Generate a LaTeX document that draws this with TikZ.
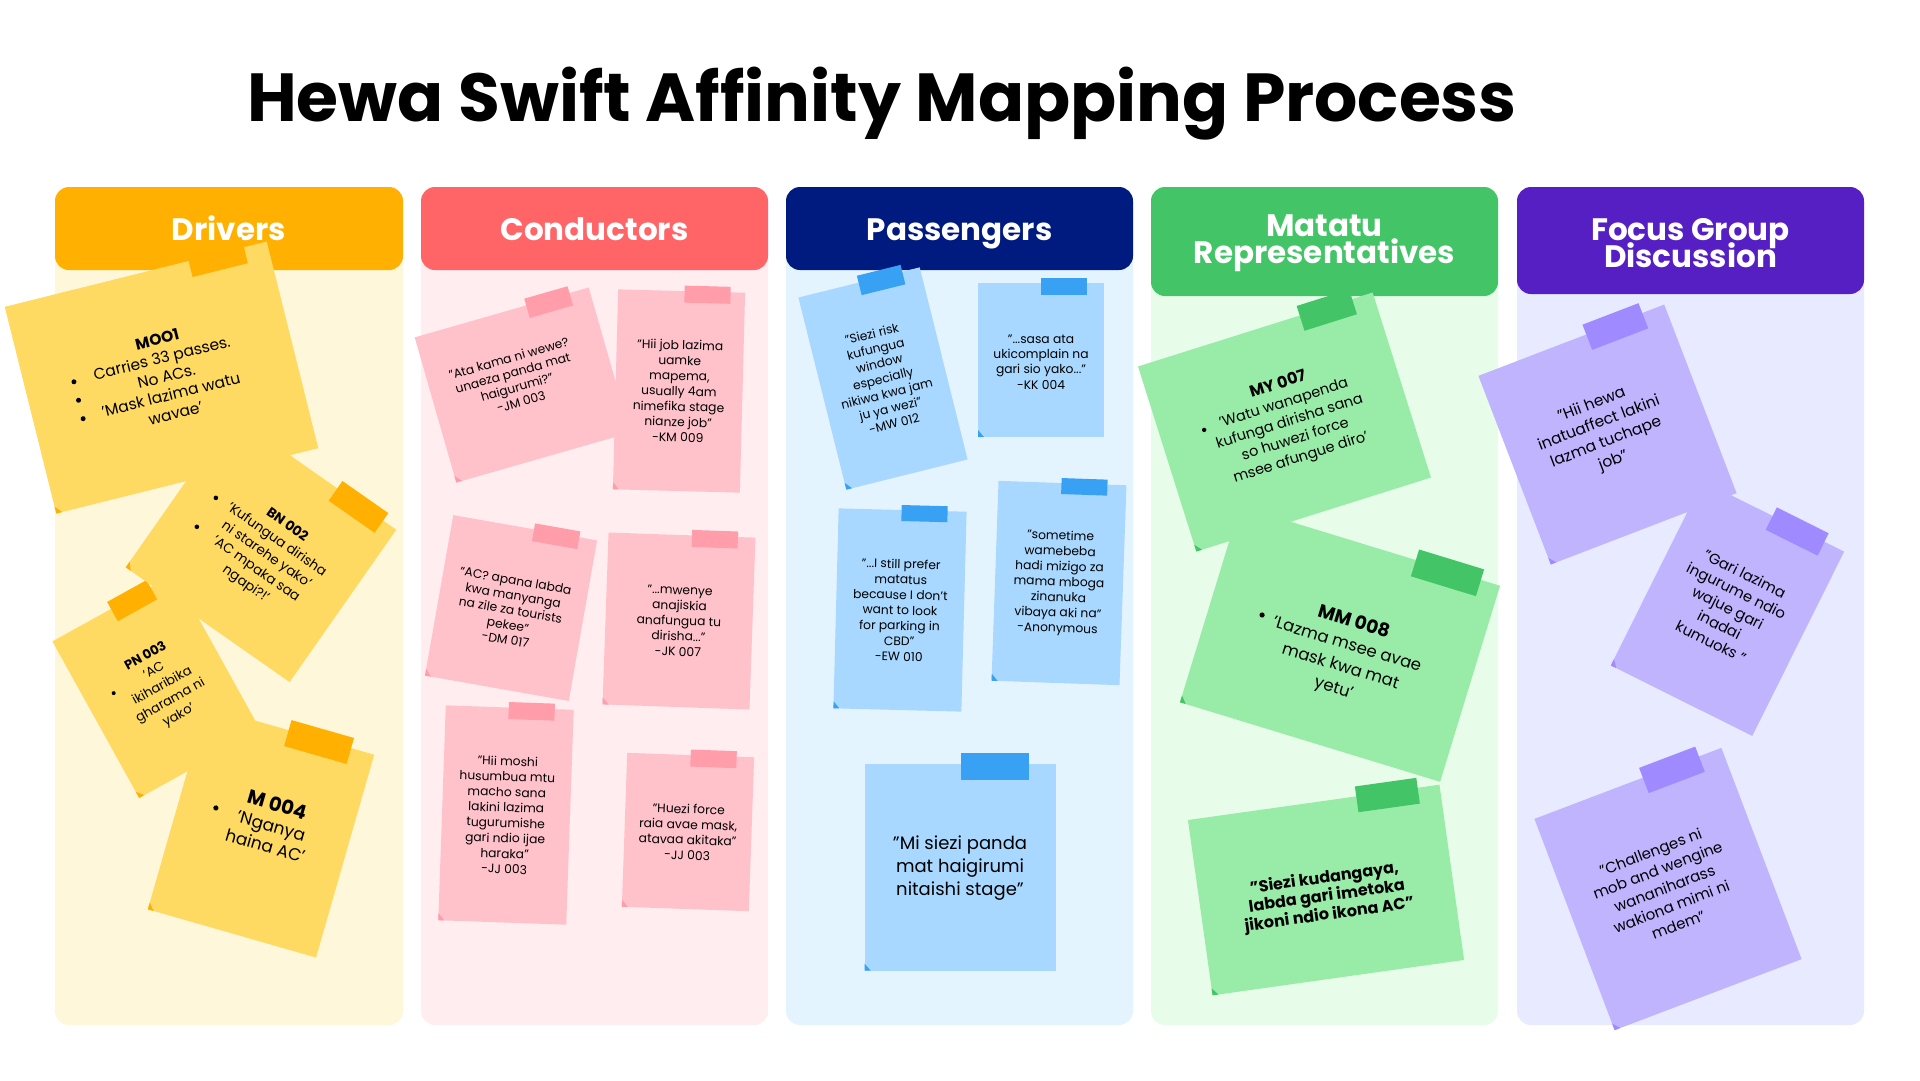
\documentclass[tikz,border=0pt]{standalone}
\usepackage{fontspec}
\setmainfont{Poppins}
\definecolor{drvH}{HTML}{FFB000}\definecolor{drvB}{HTML}{FFF7DA}
\definecolor{drvN}{HTML}{FFDA63}\definecolor{drvT}{HTML}{FFB000}
\definecolor{conH}{HTML}{FF6467}\definecolor{conB}{HTML}{FFEDEF}
\definecolor{conN}{HTML}{FFC2CB}\definecolor{conT}{HTML}{FF9DAA}
\definecolor{pasH}{HTML}{001B80}\definecolor{pasB}{HTML}{E4F4FF}
\definecolor{pasN}{HTML}{A8D8FF}\definecolor{pasT}{HTML}{38A1F3}
\definecolor{matH}{HTML}{43C467}\definecolor{matB}{HTML}{E7FCE9}
\definecolor{matN}{HTML}{98ECA8}\definecolor{matT}{HTML}{43C467}
\definecolor{focH}{HTML}{561FC4}\definecolor{focB}{HTML}{E8EAFF}
\definecolor{focN}{HTML}{C0B4FF}\definecolor{focT}{HTML}{9F8BFF}
% #1 width, #2 height, #3 note colour, #4 tape colour, #5 tape x, #6 tape w, #7 tape h
\newcommand\stickynote[7]{%
  \fill[#3] (-#1/2,-#2/2) rectangle (#1/2,#2/2);
  \fill[#4] (-#1/2,#2/2-7) -- (-#1/2+6,#2/2) -- (-#1/2,#2/2) -- cycle;
  \fill[#4] (#5-#6/2,-#2/2-#7/2+3) rectangle (#5+#6/2,-#2/2+#7/2+3);
}
\newcommand\fs[2]{\fontsize{#1}{#2}\selectfont\lineskiplimit=-60pt\lineskip=0pt\relax}
\begin{document}
\begin{tikzpicture}[x=1pt,y=-1pt,
  notepose/.style={every node/.append style={transform shape}},
  notetext/.style={align=center,inner sep=0pt,text=black},
  headtext/.style={align=center,inner sep=0pt,text=white,font=\bfseries\fs{31}{27}},
  dot/.style={fill=black}]
\useasboundingbox (0,0) rectangle (1920,1080);
\fill[white] (0,0) rectangle (1920,1080);
% title
\node[anchor=base,inner sep=0pt,font=\bfseries\fs{68}{72}] (title) at (882,121) {Hewa Swift Affinity Mapping Process};
% columns
\fill[drvB,rounded corners=14] (55,187) rectangle (403,1025);
\fill[conB,rounded corners=14] (421,187) rectangle (768,1025);
\fill[pasB,rounded corners=14] (786,187) rectangle (1133,1025);
\fill[matB,rounded corners=14] (1151,187) rectangle (1498,1025);
\fill[focB,rounded corners=14] (1517,187) rectangle (1864,1025);
\fill[drvH,rounded corners=14] (55,187) rectangle (403,270);
\fill[conH,rounded corners=14] (421,187) rectangle (768,270);
\fill[pasH,rounded corners=14] (786,187) rectangle (1133,270);
\fill[matH,rounded corners=14] (1151,187) rectangle (1498,296);
\fill[focH,rounded corners=14] (1517,187) rectangle (1864,294);
\node[headtext,anchor=base] (hdrv) at (229,240) {Drivers};
\node[headtext,anchor=base] (hcon) at (594.5,240) {Conductors};
\node[headtext,anchor=base] (hpas) at (959.5,240) {Passengers};
\node[headtext] (hmat) at (1324.5,243) {Matatu\\Representatives};
\node[headtext] (hfoc) at (1690.5,243) {Focus Group\\Discussion};
% ---------------- Drivers
\begin{scope}[shift={(156.6,686)},rotate=29,notepose]
  \stickynote{139}{179}{drvN}{drvT}{20}{45}{22}
  \node[notetext,font=\fs{13}{17}] (pn003) at (5,3) {\textbf{PN 003}\\'AC\\ikiharibika\\gharama ni\\yako'};
  \fill[dot] (-41,-14.6) circle (2);
\end{scope}
\begin{scope}[shift={(261,832)},rotate=-16,notepose]
  \stickynote{175}{211}{drvN}{drvT}{31}{65}{27}
  \node[notetext,font=\fs{17}{21}] (m004) at (8,-10) {{\bfseries\fs{19.5}{21}M 004}\\'Nganya\\haina AC'};
  \fill[dot] (-50,-10.7) circle (2.6);
\end{scope}
\begin{scope}[shift={(261,548.5)},rotate=-35,notepose]
  \stickynote{200}{186}{drvN}{drvT}{56}{56}{24}
  \node[notetext,font=\fs{13.5}{18}] (bn002) at (8,2.5) {\textbf{BN 002}\\'Kufungua dirisha\\ni starehe yako'\\'AC mpaka saa\\ngapi?!'};
  \fill[dot] (-66,-15.6) circle (2.3);
  \fill[dot] (-65,19) circle (2.3);
\end{scope}
\begin{scope}[shift={(161.5,377.5)},rotate=14,notepose]
  \stickynote{270}{213}{drvN}{drvT}{83}{57}{27}
  \node[notetext,font=\fs{15.5}{19}] (moo1) at (5,0) {\textbf{MOO1}\\Carries 33 passes.\\No ACs.\\'Mask lazima watu\\wavae'};
  \fill[dot] (-86,-17) circle (2.5);
  \fill[dot] (-86,2) circle (2.5);
  \fill[dot] (-86,21) circle (2.5);
\end{scope}
% ---------------- Conductors
\begin{scope}[shift={(522.5,385)},rotate=16,notepose]
  \stickynote{181}{151}{conN}{conT}{48}{45}{20}
  \node[notetext,font=\fs{12.3}{15}] (jm003) at (-6,-7) {"Ata kama ni wewe?\\unaeza panda mat\\haigurumi?"\\-JM 003};
\end{scope}
\begin{scope}[shift={(679,391)},rotate=-1.5,notepose]
  \stickynote{127}{200}{conN}{conT}{26}{46}{17}
  \node[notetext,font=\fs{12.3}{15.4}] (km009) at (0,0) {"Hii job lazima\\uamke\\mapema,\\usually 4am\\nimefika stage\\nianze job"\\-KM 009};
\end{scope}
\begin{scope}[shift={(511,608)},rotate=-10,notepose]
  \stickynote{146}{163}{conN}{conT}{32}{46}{18}
  \node[notetext,font=\fs{12.3}{15}] (dm017) at (0,2) {"AC? apana labda\\kwa manyanga\\na zile za tourists\\pekee"\\-DM 017};
\end{scope}
\begin{scope}[shift={(679,621)},rotate=-2,notepose]
  \stickynote{147}{172}{conN}{conT}{33}{46}{17}
  \node[notetext,font=\fs{12.3}{15.4}] (jk007) at (0,0) {"...mwenye\\anajiskia\\anafungua tu\\dirisha..."\\-JK 007};
\end{scope}
\begin{scope}[shift={(506,815)},rotate=-2,notepose]
  \stickynote{128}{215}{conN}{conT}{22}{46}{17}
  \node[notetext,font=\fs{12.3}{15.4}] (jj003a) at (0,0) {"Hii moshi\\husumbua mtu\\macho sana\\lakini lazima\\tugurumishe\\gari ndio ijae\\haraka"\\-JJ 003};
\end{scope}
\begin{scope}[shift={(688,832)},rotate=-2,notepose]
  \stickynote{127}{154}{conN}{conT}{23}{46}{17}
  \node[notetext,font=\fs{12.3}{15.4}] (jj003b) at (0,0) {"Huezi force\\raia avae mask,\\atavaa akitaka"\\-JJ 003};
\end{scope}
% ---------------- Passengers
\begin{scope}[shift={(883,378.5)},rotate=14,notepose]
  \stickynote{125}{198}{pasN}{pasT}{22}{45}{20}
  \node[notetext,font=\fs{12.3}{15.4}] (mw012) at (0,0) {"Siezi risk\\kufungua\\window\\especially\\nikiwa kwa jam\\ju ya wezi"\\-MW 012};
\end{scope}
\begin{scope}[shift={(1041,360)},notepose]
  \stickynote{126}{154}{pasN}{pasT}{23}{46}{17}
  \node[notetext,font=\fs{12.3}{15.4}] (kk004) at (0,2) {"...sasa ata\\ukicomplain na\\gari sio yako..."\\-KK 004};
\end{scope}
\begin{scope}[shift={(900,610)},rotate=-1.5,notepose]
  \stickynote{128}{200}{pasN}{pasT}{22}{46}{16}
  \node[notetext,font=\fs{12.3}{15.4}] (ew010) at (0,0) {"...I still prefer\\matatus\\because I don't\\want to look\\for parking in\\CBD"\\-EW 010};
\end{scope}
\begin{scope}[shift={(1059,583)},rotate=-2,notepose]
  \stickynote{128}{200}{pasN}{pasT}{22}{46}{16}
  \node[notetext,font=\fs{12.3}{15.4}] (anon) at (0,0) {"sometime\\wamebeba\\hadi mizigo za\\mama mboga\\zinanuka\\vibaya aki na"\\-Anonymous};
\end{scope}
\begin{scope}[shift={(960,867)},notepose]
  \stickynote{191}{207}{pasN}{pasT}{35}{68}{27}
  \node[notetext,font=\fs{18}{23}] (misiezi) at (0,1) {"Mi siezi panda\\mat haigirumi\\nitaishi stage"};
\end{scope}
% ---------------- Matatu representatives
\begin{scope}[shift={(1340,644)},rotate=-17,notepose]
  \stickynote{272}{205}{matN}{matT}{82}{68}{28}
  \node[notetext,font=\fs{16.5}{22.7}] (mm008) at (7,10) {{\bfseries\fs{18.5}{22.7}MM 008}\\'Lazma msee avae\\mask kwa mat\\yetu'};
  \fill[dot] (-83,-5) circle (2.6);
\end{scope}
\begin{scope}[shift={(1284.5,422)},rotate=17.5,notepose]
  \stickynote{246}{194}{matN}{matT}{74}{55}{26}
  \node[notetext,font=\fs{14.5}{19}] (my007) at (5,1) {{\bfseries\fs{16}{19}MY 007}\\'Watu wanapenda\\kufunga dirisha sana\\so huwezi force\\msee afungue diro'};
  \fill[dot] (-79,-16.6) circle (2.2);
\end{scope}
\begin{scope}[shift={(1326,890)},rotate=8,notepose]
  \stickynote{254}{177}{matN}{matT}{74}{62}{26}
  \node[notetext,font=\bfseries\fs{16}{18.5}] (siezi) at (0,7) {"Siezi kudangaya,\\labda gari imetoka\\jikoni ndio ikona AC"};
\end{scope}
% ---------------- Focus group discussion
\begin{scope}[shift={(1727.5,608.5)},rotate=-26.5,notepose]
  \stickynote{158}{206}{focN}{focT}{28}{58}{25}
  \node[notetext,font=\fs{14.8}{19}] (gari) at (0,-1) {"Gari lazima\\ingurume ndio\\wajue gari\\inadai\\kumuoks "};
\end{scope}
\begin{scope}[shift={(1607.5,434.5)},rotate=21,notepose]
  \stickynote{199}{202}{focN}{focT}{46}{60}{27}
  \node[notetext,font=\fs{15.5}{20}] (hiihewa) at (-4,-3) {"Hii hewa\\inatuaffect lakini\\lazma tuchape\\job"};
\end{scope}
\begin{scope}[shift={(1668,889)},rotate=20.8,notepose]
  \stickynote{200}{226}{focN}{focT}{46}{60}{27}
  \node[notetext,font=\fs{15}{19.5}] (challenges) at (-3,-2) {"Challenges ni\\mob and wengine\\wananiharass\\wakiona mimi ni\\mdem"};
\end{scope}
\end{tikzpicture}
\end{document}
